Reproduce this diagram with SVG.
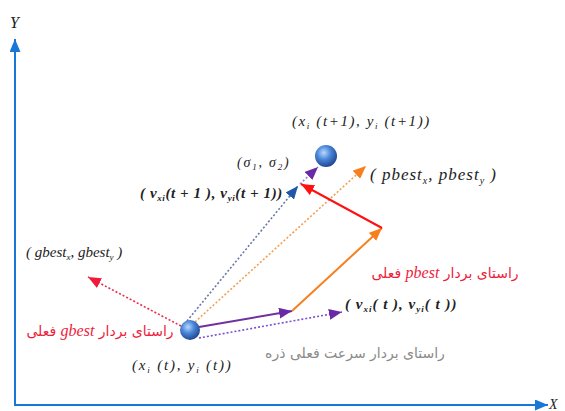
<svg xmlns="http://www.w3.org/2000/svg" width="565" height="411" viewBox="0 0 565 411">
<style>
text.m{font-family:'Liberation Serif','Times New Roman','DejaVu Serif',serif;font-style:italic;fill:#222}
text.b{font-weight:bold}
text.fa{font-family:'DejaVu Sans','Noto Sans',sans-serif;font-size:14px}
.red{fill:#ee1c3a}
.gray{fill:#8a8a8a}
.lat{font-family:'Liberation Serif','Times New Roman',serif;font-style:italic;font-size:16px}
.dot{stroke-dasharray:2 2;stroke-width:1.6;fill:none}
.sol{stroke-width:2;fill:none}
</style>
<defs>
<radialGradient id="ball" cx="0.4" cy="0.35" r="0.7">
<stop offset="0" stop-color="#b8d8ff"/>
<stop offset="0.45" stop-color="#4a86d8"/>
<stop offset="1" stop-color="#1b3f8a"/>
</radialGradient>
<marker id="aAx" markerUnits="userSpaceOnUse" markerWidth="13" markerHeight="11" refX="13" refY="5.5" orient="auto"><path d="M0,0L13,5.5L0,11z" fill="#1878d8"/></marker>
<marker id="aPur" markerUnits="userSpaceOnUse" markerWidth="13" markerHeight="11" refX="13" refY="5.5" orient="auto"><path d="M0,0L13,5.5L0,11z" fill="#6a2aa8"/></marker>
<marker id="aOr" markerUnits="userSpaceOnUse" markerWidth="13" markerHeight="11" refX="13" refY="5.5" orient="auto"><path d="M0,0L13,5.5L0,11z" fill="#f7801e"/></marker>
<marker id="aRed" markerUnits="userSpaceOnUse" markerWidth="13" markerHeight="11" refX="13" refY="5.5" orient="auto"><path d="M0,0L13,5.5L0,11z" fill="#ff1010"/></marker>
<marker id="aRed2" markerUnits="userSpaceOnUse" markerWidth="13" markerHeight="11" refX="13" refY="5.5" orient="auto"><path d="M0,0L13,5.5L0,11z" fill="#ee1c3a"/></marker>
<marker id="aBlu" markerUnits="userSpaceOnUse" markerWidth="13" markerHeight="11" refX="13" refY="5.5" orient="auto"><path d="M0,0L13,5.5L0,11z" fill="#1f58a8"/></marker>
</defs>
<rect width="565" height="411" fill="#fff"/>

<g id="axes">
<line x1="15" y1="405" x2="15" y2="39" stroke="#1878d8" stroke-width="2" marker-end="url(#aAx)"/>
<line x1="14" y1="405" x2="548" y2="405" stroke="#1878d8" stroke-width="2" marker-end="url(#aAx)"/>
<text class="m" x="10" y="28" font-size="16" font-family="Liberation Serif">Y</text>
<text class="m" x="549" y="409" font-size="14" font-family="Liberation Serif">X</text>
</g>

<g id="connectors">
<line class="dot" x1="181" y1="326" x2="88" y2="277" stroke="#ee2a48" marker-end="url(#aRed2)"/>
<line class="dot" x1="187" y1="321" x2="298" y2="186" stroke="#6878a8" marker-end="url(#aBlu)"/>
<line class="dot" x1="195" y1="322" x2="366" y2="166" stroke="#f0a050" marker-end="url(#aOr)"/>
<line class="dot" x1="300" y1="184" x2="318" y2="167" stroke="#9080d0" marker-end="url(#aPur)"/>
<line class="dot" x1="199" y1="338" x2="342" y2="312" stroke="#7a50d0" marker-end="url(#aPur)"/>
<line class="sol" x1="199" y1="327" x2="292" y2="311" stroke="#7030a0" marker-end="url(#aPur)"/>
<line class="sol" x1="292" y1="311" x2="382" y2="228" stroke="#f7801e" marker-end="url(#aOr)"/>
<line class="sol" x1="382" y1="228" x2="301" y2="184" stroke="#ff1010" marker-end="url(#aRed)"/>
</g>

<g id="particle-t">
<circle cx="190" cy="330" r="10" fill="url(#ball)"/>
<text class="m" x="132" y="370" font-size="15" letter-spacing="1.8">(x<tspan font-size="9" dy="3">i</tspan><tspan dy="-3"> (t), y</tspan><tspan font-size="9" dy="3">i</tspan><tspan dy="-3"> (t))</tspan></text>
</g>

<g id="particle-t1">
<circle cx="326" cy="156" r="11" fill="url(#ball)"/>
<text class="m" x="292" y="126" font-size="15" letter-spacing="1.6">(x<tspan font-size="9" dy="3">i</tspan><tspan dy="-3"> (t+1), y</tspan><tspan font-size="9" dy="3">i</tspan><tspan dy="-3"> (t+1))</tspan></text>
</g>

<g id="label-sigma">
<text class="m" x="237" y="167" font-size="14" letter-spacing="1.8">(σ<tspan font-size="9" dy="3">1</tspan><tspan dy="-3">, σ</tspan><tspan font-size="9" dy="3">2</tspan><tspan dy="-3">)</tspan></text>
</g>

<g id="label-v-t1">
<text class="m b" x="140" y="198" font-size="15" letter-spacing="0.6">( v<tspan font-size="9" dy="3">xi</tspan><tspan dy="-3">(t + 1 ), v</tspan><tspan font-size="9" dy="3">yi</tspan><tspan dy="-3">(t + 1))</tspan></text>
</g>

<g id="label-pbest">
<text class="m" x="370" y="180" font-size="17" letter-spacing="1">( pbest<tspan font-size="10" dy="4">x</tspan><tspan dy="-4">, pbest</tspan><tspan font-size="10" dy="4">y</tspan><tspan dy="-4"> )</tspan></text>
</g>

<g id="label-gbest">
<text class="m" x="26" y="257" font-size="15">( gbest<tspan font-size="9" dy="3">x</tspan><tspan dy="-3">, gbest</tspan><tspan font-size="9" dy="3">y</tspan><tspan dy="-3"> )</tspan></text>
</g>

<g id="label-v-t">
<text class="m b" x="345" y="309" font-size="15" letter-spacing="1">( v<tspan font-size="9" dy="3">xi</tspan><tspan dy="-3">( t ), v</tspan><tspan font-size="9" dy="3">yi</tspan><tspan dy="-3">( t ))</tspan></text>
</g>

<g id="label-pbest-dir">
<text class="fa red" x="445" y="278" direction="rtl" text-anchor="middle">راستای بردار <tspan class="lat">pbest</tspan> فعلی</text>
</g>

<g id="label-velocity-dir">
<text class="fa gray" x="355" y="358" direction="rtl" text-anchor="middle">راستای بردار سرعت فعلی ذره</text>
</g>

<g id="label-gbest-dir">
<text class="fa red" x="100" y="336" direction="rtl" text-anchor="middle">راستای بردار <tspan class="lat">gbest</tspan> فعلی</text>
</g>
</svg>
